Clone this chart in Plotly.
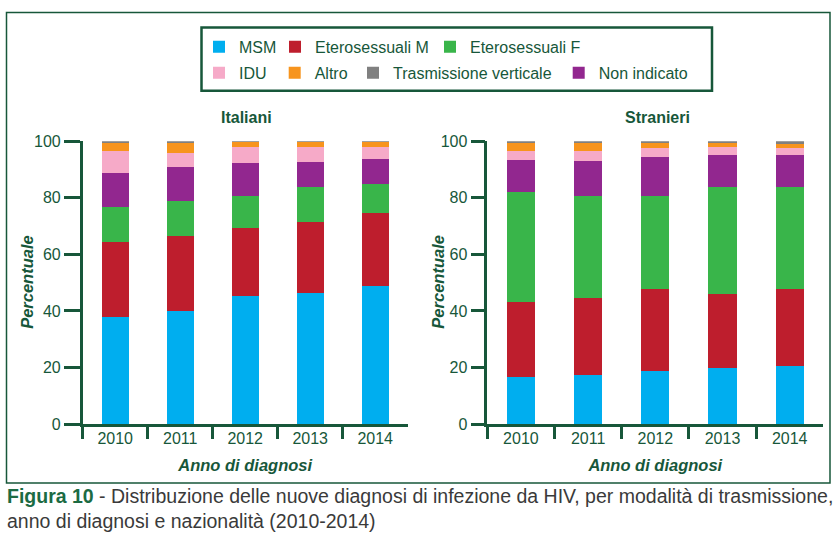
import plotly.graph_objects as go

# ---------------- data ----------------
years = ["2010", "2011", "2012", "2013", "2014"]

categories = ["MSM", "Eterosessuali M", "Eterosessuali F", "Non indicato",
              "IDU", "Altro", "Trasmissione verticale"]

ita_msm = [37.9, 39.9, 45.3, 46.3, 48.8]
ita_etero_m = [26.5, 26.7, 24.1, 25.3, 26.0]
ita_etero_f = [12.5, 12.4, 11.4, 12.4, 10.0]
ita_non_ind = [11.8, 11.8, 11.4, 8.5, 8.8]
ita_idu = [7.7, 4.9, 5.7, 5.4, 4.3]
ita_altro = [3.0, 3.6, 1.9, 1.9, 1.9]
ita_vert = [0.6, 0.7, 0.2, 0.2, 0.2]

str_msm = [16.5, 17.5, 18.9, 19.7, 20.4]
str_etero_m = [26.6, 27.0, 28.8, 26.3, 27.3]
str_etero_f = [39.1, 36.0, 33.1, 38.0, 36.0]
str_non_ind = [11.0, 12.4, 13.5, 11.0, 11.3]
str_idu = [3.2, 3.5, 3.2, 2.9, 2.5]
str_altro = [3.0, 2.9, 1.8, 1.5, 1.6]
str_vert = [0.6, 0.7, 0.7, 0.6, 0.9]

y_ticks = [0, 20, 40, 60, 80, 100]

# ---------------- styles ----------------
W, H = 840, 546
FONT = "Liberation Sans"
GREEN = "#17573a"
CAPTION_GREEN = "#1c6b43"
GREY_TEXT = "#3a3a3a"

colors = {
    "MSM": "#00aeef",
    "Eterosessuali M": "#be1e2d",
    "Eterosessuali F": "#39b54a",
    "Non indicato": "#92278f",
    "IDU": "#f6aac8",
    "Altro": "#f7941d",
    "Trasmissione verticale": "#808080",
}

# one small legend per entry: (legend id, left px of colour swatch, row centre px)
legend_slots = {
    "MSM": ("legend", 216, 47.7),
    "Eterosessuali M": ("legend2", 292, 47.7),
    "Eterosessuali F": ("legend3", 447, 47.7),
    "IDU": ("legend4", 216, 73.5),
    "Altro": ("legend5", 291.7, 73.5),
    "Trasmissione verticale": ("legend6", 370, 73.5),
    "Non indicato": ("legend7", 575.7, 73.5),
}

ita = [ita_msm, ita_etero_m, ita_etero_f, ita_non_ind, ita_idu, ita_altro, ita_vert]
stra = [str_msm, str_etero_m, str_etero_f, str_non_ind, str_idu, str_altro, str_vert]

# the photographed page comes out slightly squeezed vertically; compensate
Y_OFF, Y_SCALE = 9.0, 0.9648


def px_x(p):
    return p / W


def px_y(p):
    return 1 - ((p - Y_OFF) / Y_SCALE) / H


fig = go.Figure()
for cat, vi, vs in zip(categories, ita, stra):
    lg = legend_slots[cat][0]
    fig.add_trace(go.Bar(x=years, y=vi, name=cat, marker=dict(color=colors[cat], line=dict(width=0)),
                         xaxis="x", yaxis="y", legend=lg, legendgroup=cat, showlegend=True))
    fig.add_trace(go.Bar(x=years, y=vs, name=cat, marker=dict(color=colors[cat], line=dict(width=0)),
                         xaxis="x2", yaxis="y2", legend=lg, legendgroup=cat, showlegend=False))

y_dom = [px_y(423.3), px_y(141.7)]

axis_common = dict(showline=True, linecolor=GREEN, linewidth=2.5, ticks="outside",
                   tickcolor=GREEN, tickwidth=2.5, showgrid=False, zeroline=False,
                   tickfont=dict(family=FONT, size=16, color=GREEN))

title_font = dict(family=FONT, size=16.5, color=GREEN, weight="bold", style="italic")

layout_legends = {}
for cat, (lg, sx, cy) in legend_slots.items():
    layout_legends[lg] = dict(orientation="h", x=px_x(sx - 17), xanchor="left",
                              y=px_y(cy), yanchor="middle",
                              bgcolor="rgba(0,0,0,0)", borderwidth=0,
                              font=dict(family=FONT, size=16, color=GREEN))

fig.update_layout(
    width=W, height=H,
    margin=dict(l=0, r=0, t=0, b=0),
    paper_bgcolor="white", plot_bgcolor="white",
    barmode="stack", bargap=0.58,
    font=dict(family=FONT, color=GREEN),
    xaxis=dict(domain=[px_x(82.7), px_x(407.7)], anchor="y", type="category",
               tickson="boundaries", ticklen=12, ticklabelstandoff=-2,
               title=dict(text="Anno di diagnosi", font=title_font, standoff=14),
               **axis_common),
    yaxis=dict(domain=y_dom, anchor="x", range=[0, 100], tickvals=y_ticks, ticklen=16,
               **axis_common),
    xaxis2=dict(domain=[px_x(487.3), px_x(823.3)], anchor="y2", type="category",
                tickson="boundaries", ticklen=12, ticklabelstandoff=-2,
                title=dict(text="Anno di diagnosi", font=title_font, standoff=14),
                **axis_common),
    yaxis2=dict(domain=y_dom, anchor="x2", range=[0, 100], tickvals=y_ticks, ticklen=14,
                **axis_common),
    showlegend=True,
    **layout_legends,
)

# frames
fig.add_shape(type="rect", xref="paper", yref="paper",
              x0=px_x(6.5), x1=px_x(830), y0=px_y(482), y1=px_y(13.5),
              line=dict(color=GREEN, width=1.5), fillcolor="rgba(0,0,0,0)", layer="below")
fig.add_shape(type="rect", xref="paper", yref="paper",
              x0=px_x(201.5), x1=px_x(712), y0=px_y(91.5), y1=px_y(28.5),
              line=dict(color=GREEN, width=2.5), fillcolor="rgba(0,0,0,0)", layer="below")

# y-axis titles
for xc in (26.7, 438.5):
    fig.add_annotation(text="Percentuale", xref="paper", yref="paper", x=px_x(xc), y=px_y(282),
                       xanchor="center", yanchor="middle", textangle=-90, showarrow=False,
                       font=title_font)

# panel titles
fig.add_annotation(text="<b>Italiani</b>", xref="paper", yref="paper", x=px_x(246.4), y=px_y(118),
                   xanchor="center", yanchor="middle", showarrow=False,
                   font=dict(family=FONT, size=16, color=GREEN))
fig.add_annotation(text="<b>Stranieri</b>", xref="paper", yref="paper", x=px_x(657.5), y=px_y(118),
                   xanchor="center", yanchor="middle", showarrow=False,
                   font=dict(family=FONT, size=16, color=GREEN))

# caption
fig.add_annotation(
    text=(f"<span style='color:{CAPTION_GREEN}'><b>Figura 10</b></span>"
          " - Distribuzione delle nuove diagnosi di infezione da HIV, per modalità di trasmissione,"
          "<br>anno di diagnosi e nazionalità (2010-2014)"),
    xref="paper", yref="paper", x=px_x(5), y=px_y(482.5), xanchor="left", yanchor="top",
    align="left", showarrow=False,
    font=dict(family=FONT, size=19.5, color=GREY_TEXT))

post = ("document.body.style.margin='0';document.body.style.padding='0';"
        "document.body.style.overflow='hidden';")

fig.write_html("out.html", post_script=post, config={"displayModeBar": False})
